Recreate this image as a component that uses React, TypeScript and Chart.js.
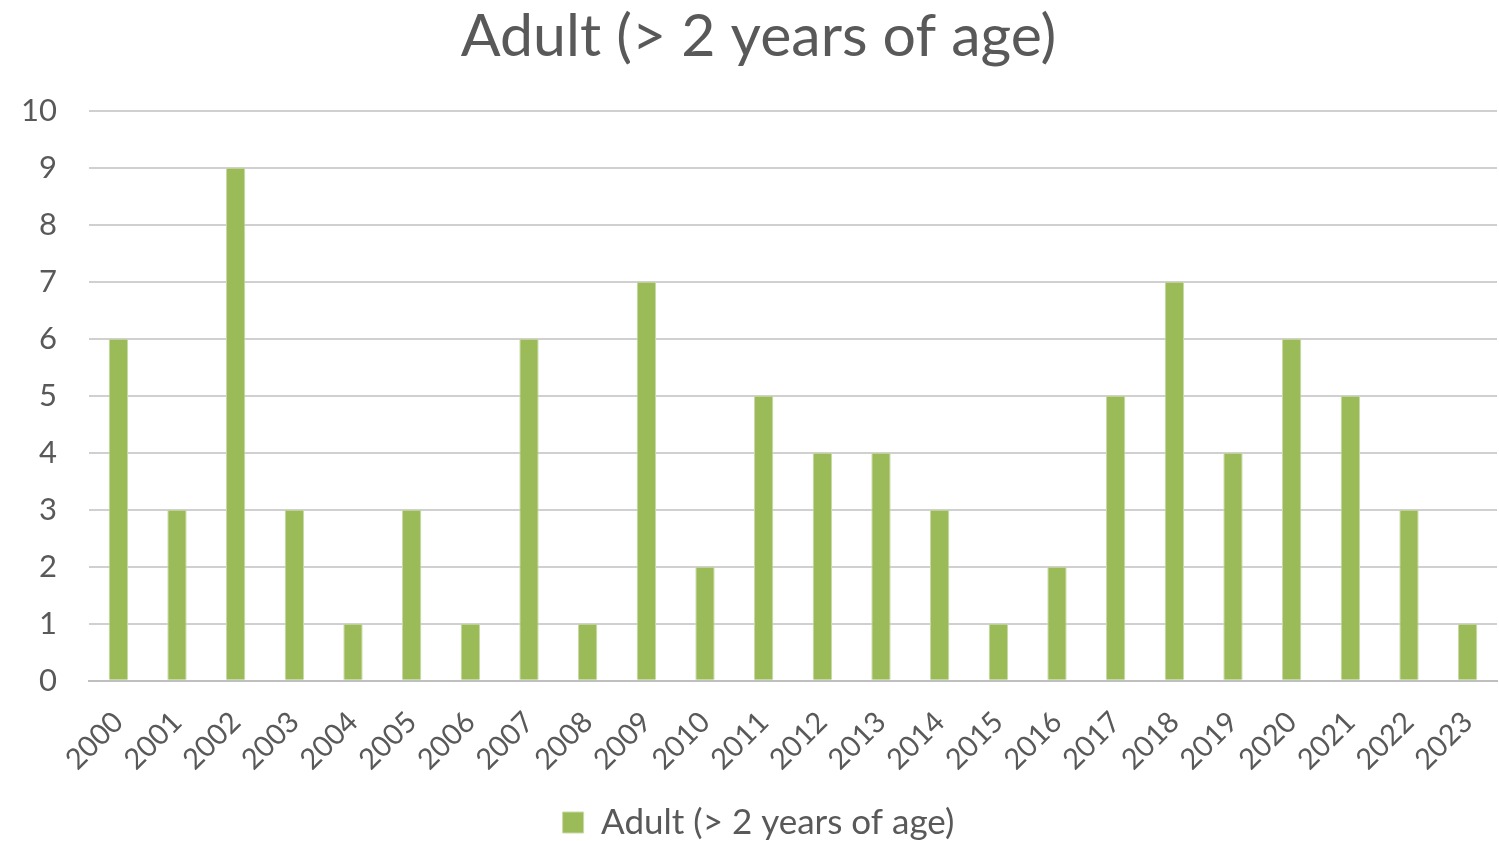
import React, { useEffect, useRef } from "react";
import { Chart, registerables } from "chart.js";

Chart.register(...registerables);

const title = "Adult (> 2 years of age)";
const seriesLabel = "Adult (> 2 years of age)";
const years = [
  "2000", "2001", "2002", "2003", "2004", "2005", "2006", "2007", "2008", "2009", "2010", "2011",
  "2012", "2013", "2014", "2015", "2016", "2017", "2018", "2019", "2020", "2021", "2022", "2023",
];
const counts = [6, 3, 9, 3, 1, 3, 1, 6, 1, 7, 2, 5, 4, 4, 3, 1, 2, 5, 7, 4, 6, 5, 3, 1];

const FONT = "Lato, 'Open Sans', sans-serif";
const TEXT = "#595959";
const GREEN = "#9BBB59";

export default function App() {
  const ref = useRef<HTMLCanvasElement | null>(null);
  useEffect(() => {
    document.body.style.margin = "0";
    const ctx = ref.current!;
    const chart = new Chart(ctx, {
      type: "bar",
      data: {
        labels: years,
        datasets: [
          {
            label: seriesLabel,
            data: counts,
            backgroundColor: GREEN,
            borderColor: "#C9D9A8",
            borderWidth: 1,
            barPercentage: 0.55,
            categoryPercentage: 0.6,
          },
        ],
      },
      options: {
        animation: false,
        responsive: false,
        maintainAspectRatio: false,
        layout: { padding: { top: 2, left: 20, right: 2, bottom: -9 } },
        plugins: {
          title: {
            display: true,
            text: title,
            color: TEXT,
            font: { family: FONT, size: 59, weight: "normal" },
            padding: { top: 0, bottom: 38 },
          },
          legend: {
            position: "bottom",
            labels: {
              color: TEXT,
              font: { family: FONT, size: 35 },
              boxWidth: 21,
              boxHeight: 21,
              padding: 0,
            },
          },
          tooltip: { enabled: false },
        },
        scales: {
          x: {
            grid: { display: false },
            border: { display: true, color: "#BFBFBF", width: 2 },
            ticks: {
              color: TEXT,
              font: { family: FONT, size: 29 },
              maxRotation: 45,
              minRotation: 45,
              padding: 16,
              autoSkip: false,
            },
            afterFit: (scale: any) => {
              scale.paddingLeft = 0;
              scale.paddingRight = 0;
              scale.height += 12;
            },
          },
          y: {
            min: 0,
            max: 10,
            ticks: {
              stepSize: 1,
              color: TEXT,
              font: { family: FONT, size: 31 },
              padding: 32,
            },
            grid: { color: "#D0D0D0", lineWidth: 2, drawTicks: false },
            border: { display: false },
            afterFit: (scale: any) => {
              scale.width = 69;
            },
          },
        },
      },
    });
    return () => chart.destroy();
  }, []);
  return (
    <div style={{ position: "absolute", left: 0, top: 0, width: 1499, height: 841 }}>
      <canvas ref={ref} width={1499} height={841} style={{ width: 1499, height: 841 }} />
    </div>
  );
}
